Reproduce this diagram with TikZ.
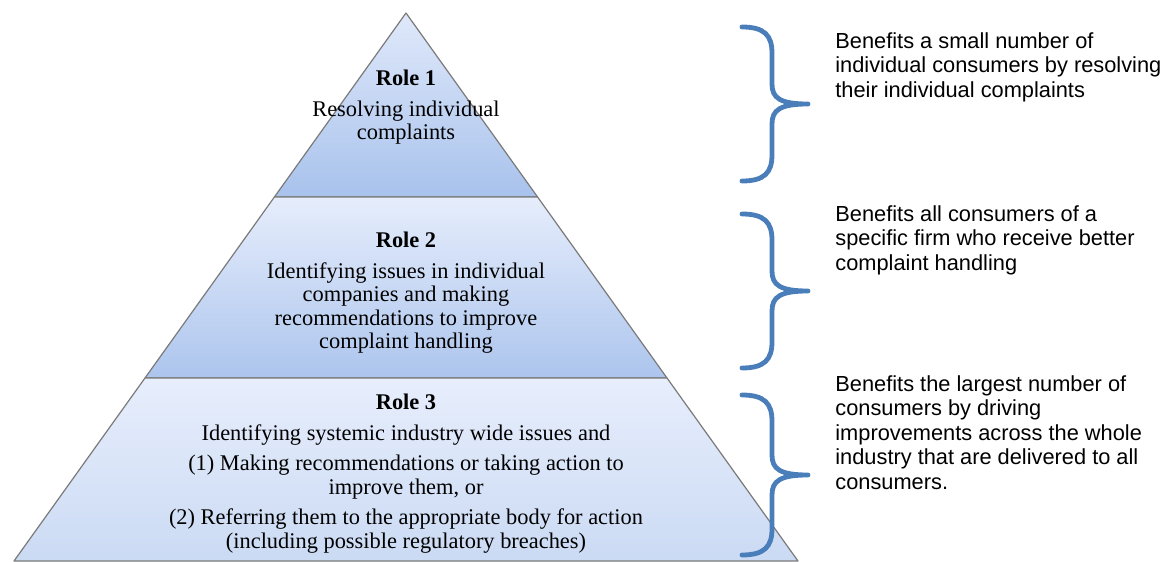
\documentclass[tikz,border=0pt]{standalone}
\usepackage{fontspec}
\setmainfont{Liberation Serif}
\newfontfamily\notefont{Liberation Sans}

\definecolor{bracecol}{HTML}{4A7EBB}
\definecolor{tierline}{HTML}{7A7A7A}
\definecolor{tierlight}{HTML}{E6EDFC}
\definecolor{tierdark}{HTML}{A8C2EC}

\tikzset{
  tier/.style={draw=tierline, line width=0.6pt, line join=round},
  role/.style={align=center, inner sep=0pt, anchor=north,
    font=\fontsize{11.2}{11.75}\selectfont},
  note/.style={align=left, inner sep=0pt, anchor=north west,
    font=\notefont\fontsize{10.9}{12.25}\selectfont},
  bracket/.style={draw=bracecol, line width=2.4pt, line cap=round, line join=round}
}

\begin{document}
\begin{tikzpicture}[x=0.5pt, y=-0.5pt]
  \useasboundingbox (0,0) rectangle (1164,562);

  % the three tiers of the pyramid
  \path[tier, top color=tierlight!90!tierdark, bottom color=tierdark]
    (406,13) -- (537.6,197) -- (274.4,197) -- cycle;
  \path[tier, top color=tierlight, bottom color=tierdark!95!white]
    (274.4,197) -- (537.6,197) -- (667,378) -- (145,378) -- cycle;
  \path[tier, top color=tierlight!95!white, bottom color=tierdark!60!white]
    (145,378) -- (667,378) -- (798,561) -- (14,561) -- cycle;

  \node[role] (role1) at (406,70)
    {\textbf{Role 1}\\[3.5pt] Resolving individual\\ complaints};
  \node[role] (role2) at (406,232)
    {\textbf{Role 2}\\[3.5pt] Identifying issues in individual\\
     companies and making\\ recommendations to improve\\ complaint handling};
  \node[role] (role3) at (406,394)
    {\textbf{Role 3}\\[3.5pt] Identifying systemic industry wide issues and\\[3.5pt]
     (1) Making recommendations or taking action to\\ improve them, or\\[3.5pt]
     (2) Referring them to the appropriate body for action\\
     (including possible regulatory breaches)};

  % braces
  \foreach \t/\b in {27/181, 214/368, 395/555} {
    \pgfmathsetmacro\m{(\t+\b)/2}
    \draw[bracket] (742,\t) .. controls (764,\t) and (772,\t+8) .. (772,\t+26)
      -- (772,\m-20) .. controls (772,\m-6) and (780,\m) .. (808,\m)
      .. controls (780,\m) and (772,\m+6) .. (772,\m+20)
      -- (772,\b-26) .. controls (772,\b-8) and (764,\b) .. (742,\b);
  }

  \node[note] (gain1) at (835,32)
    {Benefits a small number of\\ individual consumers by resolving\\
     their individual complaints};
  \node[note] (gain2) at (835,205)
    {Benefits all consumers of a\\ specific firm who receive better\\
     complaint handling};
  \node[note] (gain3) at (835,375)
    {Benefits the largest number of\\ consumers by driving\\
     improvements across the whole\\ industry that are delivered to all\\
     consumers.};
\end{tikzpicture}
\end{document}
